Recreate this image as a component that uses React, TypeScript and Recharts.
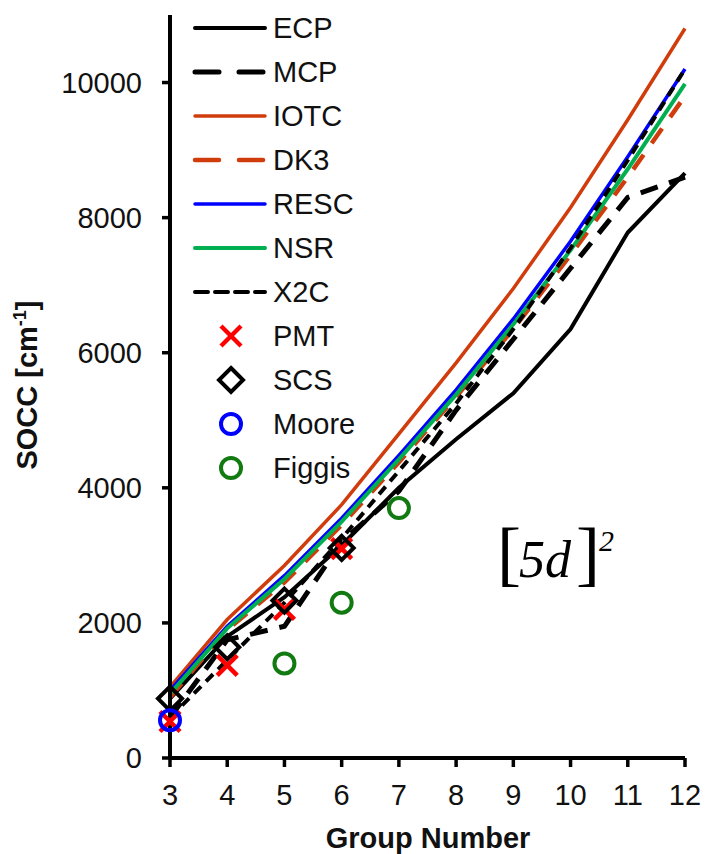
import React from 'react';
import { ComposedChart, Line, Scatter, XAxis, YAxis, Legend } from 'recharts';

const groups = [3, 4, 5, 6, 7, 8, 9, 10, 11, 12];
const ecp = [880, 1800, 2380, 3150, 4000, 4720, 5400, 6350, 7780, 8660];
const mcp = [600, 1750, 1950, 3200, 3950, 5150, 6200, 7250, 8300, 8600];
const iotc = [1050, 2050, 2850, 3750, 4800, 5850, 6950, 8150, 9450, 10800];
const dk3 = [900, 1900, 2600, 3450, 4380, 5350, 6350, 7450, 8600, 9800];
const resc = [1000, 1950, 2700, 3550, 4480, 5450, 6500, 7650, 8900, 10200];
const nsr = [950, 1920, 2650, 3500, 4420, 5380, 6420, 7520, 8720, 9980];
const x2c = [600, 1450, 2300, 3250, 4250, 5250, 6350, 7550, 8850, 10200];

const pmtGroups = [3, 4, 5, 6];
const pmtValues = [540, 1370, 2200, 3100];
const scsGroups = [3, 4, 5, 6];
const scsValues = [880, 1640, 2330, 3110];
const mooreGroups = [3];
const mooreValues = [560];
const figgisGroups = [5, 6, 7];
const figgisValues = [1400, 2300, 3700];

const yTicks = [0, 2000, 4000, 6000, 8000, 10000];
const xTicks = groups;

const ORANGE = '#d03c0c';
const BLUE = '#0000ff';
const GREEN = '#00b050';
const DKGREEN = '#117a11';
const RED = '#ff0000';
const FONT = '"Liberation Sans", Arial, sans-serif';
const SERIF = '"Liberation Serif", "Times New Roman", serif';

const data = groups.map((g, i) => ({
  g,
  ECP: ecp[i],
  MCP: mcp[i],
  IOTC: iotc[i],
  DK3: dk3[i],
  RESC: resc[i],
  NSR: nsr[i],
  X2C: x2c[i],
}));

const toPts = (gs: number[], vs: number[]) => gs.map((g, i) => ({ g, v: vs[i] }));

const CrossShape = (props: any) => {
  const { cx, cy } = props;
  const s = 10;
  return (
    <g>
      <line x1={cx - s} y1={cy - s} x2={cx + s} y2={cy + s} stroke={RED} strokeWidth={4.5} />
      <line x1={cx - s} y1={cy + s} x2={cx + s} y2={cy - s} stroke={RED} strokeWidth={4.5} />
    </g>
  );
};
const DiamondShape = (props: any) => {
  const { cx, cy } = props;
  const s = 12;
  return (
    <polygon
      points={`${cx},${cy - s} ${cx + s},${cy} ${cx},${cy + s} ${cx - s},${cy}`}
      fill="none"
      stroke="#000"
      strokeWidth={4}
      strokeLinejoin="miter"
    />
  );
};
const circleShape = (color: string) => (props: any) => {
  const { cx, cy } = props;
  return <circle cx={cx} cy={cy} r={10} fill="none" stroke={color} strokeWidth={4} />;
};

type LegItem = { name: string; kind: 'line' | 'cross' | 'diamond' | 'circle'; color: string; width?: number; dash?: string };
const legendItems: LegItem[] = [
  { name: 'ECP', kind: 'line', color: '#000', width: 4 },
  { name: 'MCP', kind: 'line', color: '#000', width: 5, dash: '24 20' },
  { name: 'IOTC', kind: 'line', color: ORANGE, width: 3.5 },
  { name: 'DK3', kind: 'line', color: ORANGE, width: 4.5, dash: '24 20' },
  { name: 'RESC', kind: 'line', color: BLUE, width: 3.5 },
  { name: 'NSR', kind: 'line', color: GREEN, width: 4 },
  { name: 'X2C', kind: 'line', color: '#000', width: 4, dash: '13 7' },
  { name: 'PMT', kind: 'cross', color: RED },
  { name: 'SCS', kind: 'diamond', color: '#000' },
  { name: 'Moore', kind: 'circle', color: BLUE },
  { name: 'Figgis', kind: 'circle', color: DKGREEN },
];

const LegendContent = () => (
  <svg width={300} height={500} style={{ display: 'block', overflow: 'visible' }}>
    {legendItems.map((it, i) => {
      const y = 28 + i * 44;
      const mx = 231 - 180;
      let marker: React.ReactNode = null;
      if (it.kind === 'line') {
        marker = (
          <line x1={195 - 180} y1={y} x2={265 - 180} y2={y} stroke={it.color} strokeWidth={it.width} strokeDasharray={it.dash} strokeLinecap="round" />
        );
      } else if (it.kind === 'cross') {
        marker = <CrossShape cx={mx} cy={y} />;
      } else if (it.kind === 'diamond') {
        marker = <DiamondShape cx={mx} cy={y} />;
      } else {
        marker = circleShape(it.color)({ cx: mx, cy: y });
      }
      return (
        <g key={it.name}>
          {marker}
          <text x={273 - 180} y={y} dy="0.36em" fontFamily={FONT} fontSize={29} fill="#111">
            {it.name}
          </text>
        </g>
      );
    })}
  </svg>
);

export default function App() {
  return (
    <div style={{ position: 'absolute', left: 0, top: 0, width: 706, height: 854, background: '#fff' }}>
      <ComposedChart width={706} height={854} data={data} margin={{ top: 15, right: 21, left: 0, bottom: 0 }}>
        <XAxis
          dataKey="g"
          type="number"
          domain={[3, 12]}
          ticks={xTicks}
          height={96}
          axisLine={{ stroke: '#000', strokeWidth: 4 }}
          tickLine={{ stroke: '#000', strokeWidth: 3.5 }}
          tickSize={9}
          tickMargin={17}
          tick={{ fontFamily: FONT, fontSize: 29, fill: '#111' }}
          interval={0}
        />
        <YAxis
          type="number"
          domain={[0, 11000]}
          ticks={yTicks}
          width={170}
          axisLine={{ stroke: '#000', strokeWidth: 4 }}
          tickLine={{ stroke: '#000', strokeWidth: 3.5 }}
          tickSize={8}
          tickMargin={20}
          tick={{ fontFamily: FONT, fontSize: 29, fill: '#111' }}
          interval={0}
        />
        <Legend layout="vertical" align="center" verticalAlign="middle" wrapperStyle={{ position: 'absolute', left: 180, top: 0, width: 300, height: 500 }} content={LegendContent} />
        <Line dataKey="ECP" stroke="#000" strokeWidth={4} dot={false} isAnimationActive={false} />
        <Line dataKey="MCP" stroke="#000" strokeWidth={5} strokeDasharray="18 12" dot={false} isAnimationActive={false} />
        <Line dataKey="IOTC" stroke={ORANGE} strokeWidth={3.5} dot={false} isAnimationActive={false} />
        <Line dataKey="DK3" stroke={ORANGE} strokeWidth={4.5} strokeDasharray="18 14" dot={false} isAnimationActive={false} />
        <Line dataKey="RESC" stroke={BLUE} strokeWidth={3.5} dot={false} isAnimationActive={false} />
        <Line dataKey="NSR" stroke={GREEN} strokeWidth={4} dot={false} isAnimationActive={false} />
        <Line dataKey="X2C" stroke="#000" strokeWidth={4} strokeDasharray="10 7" dot={false} isAnimationActive={false} />
        <Scatter data={toPts(pmtGroups, pmtValues)} dataKey="v" shape={CrossShape} isAnimationActive={false} />
        <Scatter data={toPts(scsGroups, scsValues)} dataKey="v" shape={DiamondShape} isAnimationActive={false} />
        <Scatter data={toPts(mooreGroups, mooreValues)} dataKey="v" shape={circleShape(BLUE)} isAnimationActive={false} />
        <Scatter data={toPts(figgisGroups, figgisValues)} dataKey="v" shape={circleShape(DKGREEN)} isAnimationActive={false} />
        <text x={37} y={385} transform="rotate(-90, 37, 385)" textAnchor="middle" fontFamily={FONT} fontSize={29} fontWeight="bold" fill="#111">
          SOCC [cm<tspan dy={-11} fontSize={18}>-1</tspan><tspan dy={11}>]</tspan>
        </text>
        <text x={428} y={848} textAnchor="middle" fontFamily={FONT} fontSize={29} fontWeight="bold" fill="#111">
          Group Number
        </text>
        <text x={497} y={577} fontFamily={SERIF} fontSize={72} fill="#000">[</text>
        <text x={519} y={577} fontFamily={SERIF} fontSize={52} fontStyle="italic" fill="#000">5d</text>
        <text x={576} y={577} fontFamily={SERIF} fontSize={72} fill="#000">]</text>
        <text x={599} y={551} fontFamily={SERIF} fontSize={30} fontStyle="italic" fill="#000">2</text>
      </ComposedChart>
    </div>
  );
}
